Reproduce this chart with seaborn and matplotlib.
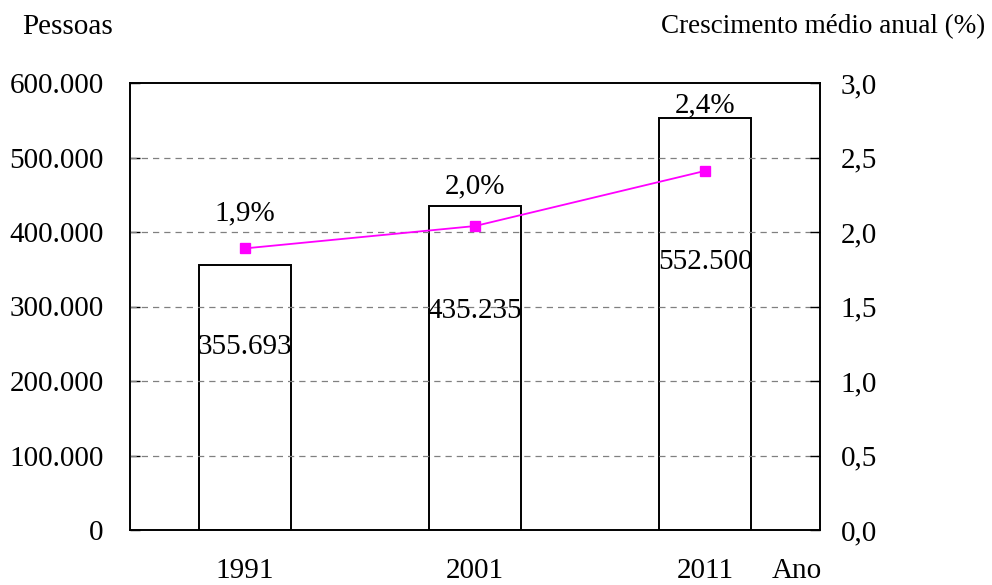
import matplotlib
matplotlib.use("Agg")
import matplotlib.pyplot as plt
import matplotlib.ticker as mticker
import seaborn as sns
import pandas as pd

years = ["1991", "2001", "2011"]
pessoas = [355693, 435235, 552500]
crescimento = [1.89, 2.04, 2.41]
pessoas_labels = ["355.693", "435.235", "552.500"]
crescimento_labels = ["1,9%", "2,0%", "2,4%"]

sns.set_theme(style="white")
plt.rcParams['font.family'] = ['Liberation Serif', 'DejaVu Serif']
plt.rcParams['font.size'] = 21
plt.rcParams['text.color'] = 'black'
plt.rcParams['xtick.color'] = 'black'
plt.rcParams['ytick.color'] = 'black'
plt.rcParams['xtick.labelcolor'] = 'black'
plt.rcParams['ytick.labelcolor'] = 'black'

FS = 21

df = pd.DataFrame({"Ano": years, "Pessoas": pessoas, "Cresc": crescimento})

fig = plt.figure(figsize=(9.92, 5.85), dpi=100)
ax = fig.add_axes([130/992, 55/585, 690/992, 447/585])

sns.barplot(data=df, x="Ano", y="Pessoas", ax=ax, color="white",
            edgecolor="black", linewidth=1.4, width=0.4, saturation=1)
ax.set_ylim(0, 600000)
ax.set_xlim(-0.5, 2.5)
ax.set_yticks(range(0, 600001, 100000))
ax.yaxis.set_major_formatter(mticker.FuncFormatter(
    lambda v, p: "0" if v == 0 else f"{int(v):,}".replace(",", ".")))
ax.set_xlabel("")
ax.set_ylabel("")
ax.set_axisbelow(False)
for yv in range(100000, 600000, 100000):
    ax.axhline(yv, color="#808080", linestyle=(0, (5, 4)), linewidth=0.9, zorder=3)

ax.set_xticks([0, 1, 2])
ax.set_xticklabels(years)
ax.tick_params(axis="x", which="major", length=0, pad=20, labelsize=FS, colors="black")
ax.set_xticks([0.5, 1.5], minor=True)
ax.tick_params(axis="x", which="minor", length=7, direction="in", width=1, color="black")
ax.tick_params(axis="y", length=7, direction="in", width=1, pad=19, labelsize=FS,
               colors="black", left=True)
for s in ax.spines.values():
    s.set_color("black")
    s.set_linewidth(1.2)

ax2 = ax.twinx()
sns.pointplot(data=df, x="Ano", y="Cresc", ax=ax2, color="#FF00FF", markers="s",
              linestyles="-", markersize=7, linewidth=1.3, errorbar=None)
ax2.set_ylim(0, 3.0)
ax2.set_xlim(-0.5, 2.5)
ax2.set_yticks([0, 0.5, 1.0, 1.5, 2.0, 2.5, 3.0])
ax2.yaxis.set_major_formatter(mticker.FuncFormatter(lambda v, p: f"{v:.1f}".replace(".", ",")))
ax2.set_ylabel("")
ax2.set_xlabel("")
ax2.tick_params(axis="y", length=7, direction="in", width=1, pad=15, labelsize=FS,
                colors="black", right=True)
for s in ax2.spines.values():
    s.set_color("black")
    s.set_linewidth(1.2)

# value labels
bar_label_frac = [0.69, 0.675, 0.65]
for i, (v, lab) in enumerate(zip(pessoas, pessoas_labels)):
    ax.text(i, v * bar_label_frac[i], lab, ha="center", va="center", fontsize=FS,
            color="black", zorder=5)

pct_offsets = [35, 40, 66]
for i, (v, lab) in enumerate(zip(crescimento, crescimento_labels)):
    ax2.annotate(lab, (i, v), xytext=(0, pct_offsets[i] * 0.72), textcoords="offset points",
                 ha="center", va="center", fontsize=FS, color="black")

fig.text(68/992, 1 - 27/585, "Pessoas", ha="center", va="center", fontsize=FS, color="black")
fig.text(985/992, 1 - 27/585, "Crescimento médio anual (%)", ha="right", va="center",
         fontsize=19.5, color="black")
fig.text(797/992, 1 - 571/585, "Ano", ha="center", va="center", fontsize=FS, color="black")

fig.savefig("out.png", dpi=100)
